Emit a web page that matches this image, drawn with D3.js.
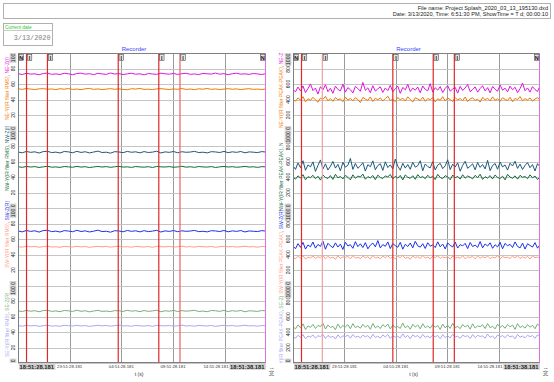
<!DOCTYPE html>
<html><head><meta charset="utf-8">
<script src="https://cdn.jsdelivr.net/npm/d3@7"></script>
<style>body{margin:0;background:#fff;} svg{display:block;font-family:"Liberation Sans",Arial,sans-serif;}</style>
</head><body><svg id="c" width="554" height="382"></svg>
<script>
// ---------- texts ----------
const fileNameText = "File name: Project Splash_2020_03_13_195130.dxd";
const dateLineText = "Date: 3/13/2020, Time: 6:51:30 PM, ShowTime = T d; 00:00:10";
const currentDateTitle = "Current date";
const currentDate = "3/13/2020";
const panelTitle = "Recorder";
const timeDomain = [0, 9.6];
const timeTicks = [2, 4, 6, 8];
const timeTickLabels = ["23:51:28.181", "04:51:28.181", "09:51:28.181", "14:51:28.181"];
const startLabel = "18:51:28.181";
const endLabel = "18:51:38.181";
const timeTitle = "t (s)";
const markerTimes = [0.33, 1.14, 3.88, 5.45, 6.27];
const markerLetters = ["I", "I", "I", "I", "I"];
const leftTicks = [0, 20, 40, 60, 80, 100];
const rightTicks = [0, 200, 400, 600, 800, 1000];
const leftNames = [["NE-Y(IR filter RMS)", "NE-Z(I)"], ["NW-Y(IR filter RMS)", "NW-Z(I)"], ["SW-Y(IR filter RMS)", "SW-Z(R)"], ["SE-Y(IR filter RMS)", "SE-Z(R)"]];
const rightNames = [["NE-Y(IR filter PEAK-PEAK)", "NE-Z(I)"], ["NW-Y(IR filter PEAK-PEAK)", "NW-Z(I)"], ["SW-Y(IR filter PEAK-PEAK)", "SW-Z(R)"], ["SE-Y(IR filter PEAK-PEAK)", "SE-Z(R)"]];
// colours per section: [upper trace (Z), lower trace (Y)]
const sectionColors = [["#e014e0", "#f07800"], ["#1b5a7c", "#0f6a3c"], ["#1a32e8", "#ff9c86"], ["#78ae78", "#a8a8f0"]];

// ---------- left panel (RMS, 0..100) ----------
const neZ_rms = [73.4,72.2,73.9,72.8,73.1,71.9,73.6,74.1,72.5,73.0,72.3,73.8,73.2,72.0,73.5,74.0,72.7,73.3,72.1,73.7,73.0,72.4,74.2,72.9,73.4,72.2,73.1,73.9,72.6,73.2,71.8,73.5,73.0,72.4,74.0,73.1,72.7,73.6,72.3,73.3,73.8,72.5,73.0,72.1,73.7,73.2,72.8,74.1,72.6,73.4,72.0,73.3,73.9,72.7,73.1,72.4,73.6,73.0,72.2,73.5];
const neY_rms = [53.8,53.1,54.2,53.4,52.9,53.7,54.0,53.2,53.6,52.8,53.9,53.3,54.1,53.0,53.5,52.7,53.8,54.3,53.1,53.6,52.9,53.4,54.0,53.2,53.7,53.0,52.6,53.9,53.5,54.2,53.1,53.3,52.8,53.7,54.0,53.4,52.9,53.6,53.2,54.1,53.0,53.5,52.7,53.8,53.3,54.2,53.1,53.6,52.9,53.4,54.0,53.2,53.7,52.8,53.5,53.9,53.1,53.4,52.9,53.6];
const nwZ_rms = [72.3,71.2,73.0,71.8,72.5,70.9,72.8,73.2,71.5,72.1,71.0,72.9,72.4,71.3,73.1,71.7,72.6,71.1,72.2,73.4,71.6,72.0,70.8,72.7,72.3,71.4,73.0,71.9,72.5,71.2,72.8,71.6,72.1,73.3,71.0,72.4,71.8,72.9,71.3,72.6,71.9,72.2,73.1,71.5,72.0,71.1,72.7,72.3,71.6,73.0,71.4,72.5,71.8,72.9,71.2,72.4,72.0,71.5,72.8,72.1];
const nwY_rms = [53.2,52.5,53.6,52.9,53.4,52.3,53.1,53.8,52.7,53.0,52.4,53.5,53.1,52.6,53.7,52.8,53.3,52.2,53.0,53.6,52.9,53.4,52.5,53.2,53.7,52.8,53.1,52.4,53.5,53.0,52.7,53.3,52.3,53.6,53.1,52.9,53.4,52.6,53.0,53.8,52.7,53.2,52.5,53.5,53.0,52.8,53.4,52.3,53.1,53.6,52.9,53.3,52.6,53.0,53.7,52.8,53.2,52.4,53.4,53.0];
const swZ_rms = [70.4,69.2,71.0,69.8,70.6,68.9,70.9,71.3,69.5,70.2,69.0,70.8,70.3,69.4,71.2,69.7,70.5,69.1,70.1,71.4,69.6,70.0,68.8,70.7,70.4,69.3,71.0,69.9,70.6,69.2,70.8,69.5,70.2,71.2,69.0,70.5,69.8,70.9,69.4,70.6,69.9,70.3,71.1,69.5,70.0,69.2,70.7,70.4,69.6,71.0,69.3,70.5,69.8,70.9,69.1,70.4,70.0,69.6,70.8,70.2];
const swY_rms = [50.2,49.5,50.6,49.9,50.3,49.4,50.1,50.7,49.6,50.0,49.3,50.5,50.1,49.7,50.6,49.8,50.3,49.2,50.0,50.5,49.9,50.4,49.5,50.2,50.7,49.8,50.1,49.4,50.5,50.0,49.7,50.3,49.3,50.6,50.1,49.9,50.4,49.6,50.0,50.8,49.7,50.2,49.5,50.5,50.0,49.8,50.4,49.3,50.1,50.6,49.9,50.3,49.6,50.0,50.7,49.8,50.2,49.4,50.4,50.0];
const seZ_rms = [67.3,66.4,67.9,66.8,67.5,66.1,67.7,68.0,66.6,67.2,66.2,67.8,67.3,66.5,68.1,66.7,67.4,66.0,67.1,67.9,66.6,67.0,66.3,67.6,67.4,66.5,68.0,66.9,67.5,66.3,67.7,66.6,67.2,68.1,66.1,67.4,66.8,67.9,66.4,67.6,66.9,67.3,68.0,66.5,67.0,66.2,67.7,67.4,66.6,67.9,66.4,67.5,66.8,67.8,66.1,67.4,67.0,66.6,67.7,67.2];
const seY_rms = [48.3,47.5,48.7,47.9,48.4,47.3,48.1,48.8,47.6,48.0,47.4,48.6,48.2,47.7,48.7,47.8,48.3,47.2,48.0,48.6,47.9,48.4,47.5,48.2,48.8,47.8,48.1,47.4,48.5,48.0,47.7,48.3,47.3,48.6,48.1,47.9,48.4,47.6,48.0,48.9,47.7,48.2,47.5,48.5,48.0,47.8,48.4,47.3,48.1,48.6,47.9,48.3,47.6,48.0,48.7,47.8,48.2,47.4,48.4,48.0];

// ---------- right panel (PEAK-PEAK, 0..1000) ----------
const neZ_pp = [532,498,561,510,575,489,540,602,515,548,470,566,523,590,501,545,480,572,530,512,598,495,553,527,484,569,541,506,620,518,550,488,577,509,536,564,492,548,515,583,500,538,572,479,556,525,595,503,547,520,561,487,574,530,512,605,496,552,521,566,490,543,579,508,535,558,482,570,517,549,594,501,528,563,495,541,577,511,553,486,568,532,507,588,520,546,499,572,526,558,489,540,612,513,549,495,566,528,503,575];
const neY_pp = [402,378,421,391,436,370,410,388,429,395,365,418,401,440,383,412,376,425,397,409,371,431,392,415,384,423,399,360,427,405,389,433,374,416,396,420,381,411,442,387,404,373,428,394,417,380,435,399,368,422,406,386,430,377,413,398,424,369,409,391,437,382,419,400,375,426,393,414,385,432,372,408,421,389,403,366,428,396,417,381,434,390,410,376,423,402,387,429,371,415,398,438,383,411,394,420,378,406,425,388];
const nwZ_pp = [545,498,582,520,610,487,556,530,595,472,548,620,505,570,490,538,601,515,563,480,589,527,552,640,498,575,512,544,585,476,560,532,608,494,548,571,485,596,522,557,503,631,540,488,577,515,562,499,590,527,546,610,480,568,535,517,598,490,553,576,508,544,622,496,565,528,583,475,550,603,512,539,570,493,587,524,561,505,615,482,548,574,500,593,530,556,489,578,542,604,511,566,497,549,585,520,560,478,572,533];
const nwY_pp = [398,372,415,386,430,365,404,391,422,378,410,360,426,394,381,418,369,435,389,407,375,421,396,363,428,384,412,399,437,371,405,388,419,366,424,393,380,414,401,432,374,409,386,420,362,427,397,383,416,370,431,392,406,378,423,388,411,367,434,395,379,417,402,364,425,390,408,373,429,385,413,398,376,421,391,436,369,404,387,418,375,426,394,381,410,363,433,399,384,415,372,422,396,406,379,428,389,412,368,400];
const swZ_pp = [508,475,540,492,556,470,523,498,561,482,530,505,572,468,545,512,488,550,496,534,465,558,510,527,480,566,501,538,490,553,473,520,547,499,580,485,529,506,562,477,541,515,493,557,469,532,503,548,486,570,512,495,539,478,552,507,524,489,563,500,535,472,549,518,497,560,483,528,511,544,476,555,503,521,492,567,486,536,509,551,480,526,498,558,474,543,513,531,490,562,505,485,547,470,538,517,496,553,482,527];
const swY_pp = [362,345,378,352,385,340,368,356,381,347,371,359,390,343,375,355,366,338,383,350,369,361,377,344,386,353,364,348,380,357,372,341,388,354,367,346,379,358,384,349,370,342,376,360,387,351,365,339,382,356,373,347,389,353,368,344,378,359,385,348,371,357,374,340,381,355,366,350,386,345,369,362,377,343,383,352,372,358,380,346,367,354,388,341,375,360,364,349,379,356,384,347,370,353,376,342,382,358,368,351];
const seZ_pp = [468,440,492,455,505,432,478,460,498,445,485,470,512,438,490,458,474,430,502,450,482,466,495,442,508,456,476,448,499,462,486,435,510,452,479,444,496,465,504,439,488,459,470,447,515,454,481,436,500,463,491,441,507,457,477,449,494,461,483,433,503,453,487,446,511,458,472,443,497,464,489,437,506,451,480,468,493,445,509,455,475,440,501,460,484,448,498,466,490,434,508,457,478,450,495,463,486,442,504,470];
const seY_pp = [340,318,358,330,366,312,348,335,361,322,352,340,370,315,355,331,345,310,363,326,350,342,360,320,368,333,346,325,359,338,353,314,372,329,347,321,362,336,367,317,351,334,344,323,375,330,357,312,364,339,354,319,369,332,348,324,361,337,356,313,366,328,352,322,371,335,345,318,360,341,353,316,367,327,357,343,349,320,373,331,346,315,362,338,355,326,364,336,350,311,369,333,347,325,358,340,354,319,365,335];

const leftSections = [[neZ_rms, neY_rms], [nwZ_rms, nwY_rms], [swZ_rms, swY_rms], [seZ_rms, seY_rms]];
const rightSections = [[neZ_pp, neY_pp], [nwZ_pp, nwY_pp], [swZ_pp, swY_pp], [seZ_pp, seY_pp]];

// ---------- layout ----------
const svg = d3.select("#c");
const plotTop = 53, plotBottom = 363, nSec = 4;
const secH = (plotBottom - plotTop) / nSec;

// header box
svg.append("rect").attr("x", 3.5).attr("y", 3.5).attr("width", 547).attr("height", 15)
  .attr("fill", "#fff").attr("stroke", "#b0b0b0");
svg.append("text").attr("x", 548).attr("y", 10).attr("text-anchor", "end").attr("font-size", 5.6).attr("fill", "#222").text(fileNameText);
svg.append("text").attr("x", 548).attr("y", 16).attr("text-anchor", "end").attr("font-size", 5.6).attr("fill", "#222").text(dateLineText);

// current date box
svg.append("rect").attr("x", 3.5).attr("y", 23.5).attr("width", 49).attr("height", 22).attr("fill", "#fff").attr("stroke", "#b0b0b0");
svg.append("line").attr("x1", 3.5).attr("x2", 52.5).attr("y1", 30.5).attr("y2", 30.5).attr("stroke", "#c8c8c8");
svg.append("text").attr("x", 5).attr("y", 29).attr("font-size", 4.8).attr("fill", "#22cc22").text(currentDateTitle);
svg.append("text").attr("x", 50.5).attr("y", 40).attr("text-anchor", "end").attr("font-size", 6.8)
  .attr("font-family", "'Liberation Mono','DejaVu Sans Mono',monospace").attr("fill", "#808080").text(currentDate);

const defs = svg.append("defs");

function boxedRotText(parent, tx, ty, txt, anchor, size, rot, boxed, weight) {
  const g = parent.append("g").attr("transform", `translate(${tx},${ty}) rotate(${rot})`);
  const t = g.append("text").attr("text-anchor", anchor).attr("dominant-baseline", "central")
    .attr("font-size", size).attr("fill", "#222").attr("font-weight", weight || "normal").text(txt);
  if (boxed) {
    const b = t.node().getBBox();
    g.insert("rect", "text").attr("x", b.x - 0.6).attr("y", b.y - 0.3).attr("width", b.width + 1.2).attr("height", b.height + 0.6)
      .attr("fill", "#d2d2d2");
  }
  return g;
}

const panels = [
  { id: "L", x0: 18, x1: 266, max: 100, ticks: leftTicks, names: leftNames, data: leftSections,
    labelX: 7, tickX: 13, labelStarts: [120, 191, 268, 357], labelClipTops: [53, 121, 192, 269],
    redColors: ["#e02828", "#e02828", "#e02828", "#e02828", "#ee6060"] },
  { id: "R", x0: 293, x1: 540, max: 1000, ticks: rightTicks, names: rightNames, data: rightSections,
    labelX: 281, tickX: 288, labelStarts: [128, 211, 294, 372], labelClipTops: [53, 143, 200, 296],
    redColors: ["#e02828", "#f0a0a0", "#e02828", "#e02828", "#e02828"] }
];

panels.forEach(p => {
  const x = d3.scaleLinear().domain(timeDomain).range([p.x0, p.x1]);
  const pw = p.x1 - p.x0;
  const g = svg.append("g");

  // title
  g.append("text").attr("x", (p.x0 + p.x1) / 2 - 8).attr("y", 51).attr("text-anchor", "middle")
    .attr("font-size", 6).attr("fill", "#3344ff").text(panelTitle);

  // vertical grid (axis)
  const xg = g.append("g").attr("transform", `translate(0,${plotBottom})`)
    .call(d3.axisBottom(x).tickValues(timeTicks).tickSize(-(plotBottom - plotTop)).tickFormat(""));
  xg.select(".domain").remove();
  xg.selectAll("line").attr("stroke", "#9a9a9a").attr("shape-rendering", "crispEdges");

  // sections
  p.data.forEach((pair, s) => {
    const sy0 = plotTop + s * secH, sy1 = sy0 + secH;
    const y = d3.scaleLinear().domain([0, p.max]).range([sy1, sy0]);
    const yg = g.append("g").attr("transform", `translate(${p.x0},0)`)
      .call(d3.axisLeft(y).tickValues(p.ticks).tickSize(-pw).tickFormat(""));
    yg.select(".domain").remove();
    yg.selectAll("line").attr("stroke", "#c4c4c4").attr("shape-rendering", "crispEdges");

    // tick labels
    p.ticks.forEach(t => {
      const isMax = t === p.max, isMin = t === 0;
      const anchor = isMax ? "end" : (isMin ? "start" : "middle");
      const ty = isMax ? y(t) + 0.8 : (isMin ? y(t) - 0.8 : y(t));
      boxedRotText(g, p.tickX, ty, String(t), anchor, 5, -90, isMax || isMin);
    });
  });

  // clip for traces
  const cid = "clip" + p.id;
  defs.append("clipPath").attr("id", cid).append("rect")
    .attr("x", p.x0).attr("y", plotTop).attr("width", pw).attr("height", plotBottom - plotTop);
  const tg = g.append("g").attr("clip-path", `url(#${cid})`);
  p.data.forEach((pair, s) => {
    const sy0 = plotTop + s * secH, sy1 = sy0 + secH;
    const y = d3.scaleLinear().domain([0, p.max]).range([sy1, sy0]);
    pair.forEach((arr, k) => {
      const dt = (timeDomain[1] - timeDomain[0]) / (arr.length - 1);
      const line = d3.line().x((d, i) => x(timeDomain[0] + i * dt)).y(d => y(d));
      tg.append("path").datum(arr).attr("d", line).attr("fill", "none")
        .attr("stroke", sectionColors[s][k]).attr("stroke-width", 1).attr("stroke-linejoin", "round");
    });
  });

  // red marker lines
  markerTimes.forEach((mt, i) => {
    g.append("line").attr("x1", x(mt)).attr("x2", x(mt)).attr("y1", plotTop).attr("y2", plotBottom)
      .attr("stroke", p.redColors[i]).attr("stroke-width", 1.2);
  });

  // frame
  g.append("rect").attr("x", p.x0 + 0.5).attr("y", plotTop + 0.5).attr("width", pw - 1).attr("height", plotBottom - plotTop - 1)
    .attr("fill", "none").attr("stroke", "#808080");
  g.append("line").attr("x1", p.x1 - 0.5).attr("x2", p.x1 - 0.5).attr("y1", plotTop).attr("y2", plotBottom)
    .attr("stroke", "#e070e0").attr("stroke-width", 1);

  // marker boxes
  function markerBox(mx, letter) {
    g.append("rect").attr("x", mx + 0.5).attr("y", plotTop + 1.5).attr("width", 4.5).attr("height", 6)
      .attr("fill", "#e4e4e4").attr("stroke", "#333").attr("stroke-width", 0.5);
    g.append("text").attr("x", mx + 2.75).attr("y", plotTop + 6.6).attr("text-anchor", "middle")
      .attr("font-size", 5.4).attr("font-weight", "bold").attr("fill", "#111").text(letter);
  }
  markerBox(p.x0 + 0.5, "N");
  markerTimes.forEach((mt, i) => markerBox(x(mt) + 0.3, markerLetters[i]));
  markerBox(p.x1 - 6, "N");

  // channel name labels
  p.names.forEach((nm, s) => {
    const lid = "lab" + p.id + s;
    const start = p.labelStarts[s];
    defs.append("clipPath").attr("id", lid).append("rect")
      .attr("x", p.labelX - 5).attr("y", p.labelClipTops[s]).attr("width", 10).attr("height", Math.min(plotBottom, start + 2) - p.labelClipTops[s]);
    const og = g.append("g").attr("clip-path", `url(#${lid})`);
    const t = og.append("g").attr("transform", `translate(${p.labelX},${start}) rotate(-90)`)
      .append("text").attr("dominant-baseline", "central").attr("font-size", 5);
    t.append("tspan").attr("fill", sectionColors[s][1]).text(nm[0]);
    t.append("tspan").attr("fill", "#555").text(", ");
    t.append("tspan").attr("fill", sectionColors[s][0]).text(nm[1]);
  });

  // x tick labels (the last one sits just left of the end box)
  const endBoxW = 33;
  timeTicks.forEach((tv, i) => {
    const tx = x(tv);
    const last = i === timeTicks.length - 1;
    g.append("text").attr("x", last ? Math.min(tx, p.x1 - endBoxW - 17) : tx).attr("y", 367.5).attr("text-anchor", "middle")
      .attr("font-size", 4.3).attr("fill", "#333").text(timeTickLabels[i]);
  });
  boxedRotText(g, p.x0 + 1.5, 366.5, startLabel, "start", 5.8, 0, true, "bold");
  boxedRotText(g, p.x1 - 1.5, 366.5, endLabel, "end", 5.8, 0, true, "bold");

  g.append("text").attr("x", (p.x0 + p.x1) / 2 - 3).attr("y", 376).attr("text-anchor", "middle")
    .attr("font-size", 5).attr("fill", "#333").text(timeTitle);
  boxedRotText(g, p.x1 + 5.5, 372, timeTitle, "middle", 5, 90, false);
});
</script>
</body></html>
